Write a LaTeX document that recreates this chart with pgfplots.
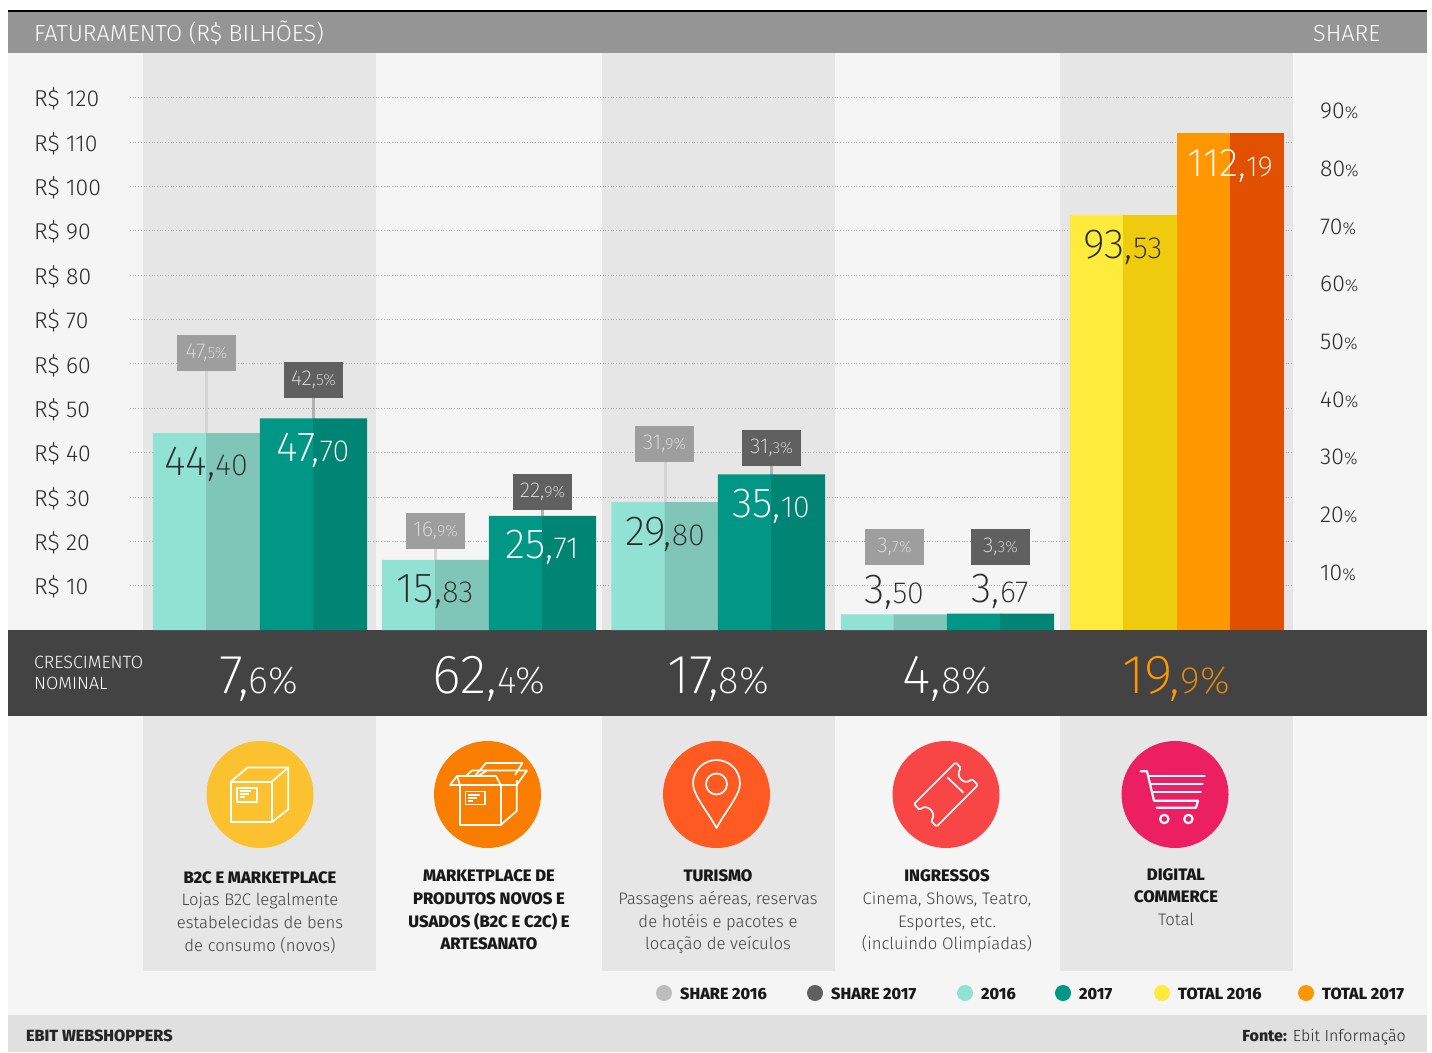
\documentclass[border=0pt]{standalone}
\usepackage{fontspec}
\usepackage{pgfplots}
\pgfplotsset{compat=1.18}
\setmainfont{Fira Sans}[UprightFont=* Light,BoldFont=* ExtraBold]
\newfontfamily\thin{Fira Sans ExtraLight}
\definecolor{Panel}{HTML}{F5F5F5}
\definecolor{Band}{HTML}{E6E6E6}
\definecolor{Head}{HTML}{959595}
\definecolor{Dark}{HTML}{434343}
\definecolor{Foot}{HTML}{E0E0E0}
\definecolor{ShareA}{HTML}{9E9E9E}
\definecolor{ShareB}{HTML}{606060}
\definecolor{LegA}{HTML}{BDBDBD}
\definecolor{MintA}{HTML}{92E2D3}
\definecolor{MintB}{HTML}{7FC5B8}
\definecolor{TealA}{HTML}{009786}
\definecolor{TealB}{HTML}{008574}
\definecolor{YelA}{HTML}{FFEB3B}
\definecolor{YelB}{HTML}{EECB0D}
\definecolor{OrA}{HTML}{FF9800}
\definecolor{OrB}{HTML}{E68A0A}
\definecolor{BarOrB}{HTML}{E14F00}
\definecolor{Ink}{HTML}{2B2B2B}
\definecolor{IcA}{HTML}{FCC12F}
\definecolor{IcB}{HTML}{F97E00}
\definecolor{IcC}{HTML}{FF5A22}
\definecolor{IcD}{HTML}{F84545}
\definecolor{IcE}{HTML}{EC1F63}
\newcommand\fs[1]{\fontsize{#1}{#1}\selectfont}
\newcommand\val[2]{{\thin\fs{42}#1,}{\thin\fs{30.5}#2}}
\newcommand\shr[2]{{\thin\fs{21.5}#1,}{\thin\fs{16}#2\%}}
\newcommand\gro[2]{{\thin\fs{55}#1,}{\thin\fs{38}#2\%}}
\tikzset{txt/.style={inner sep=0pt,anchor=base},
  shbox/.style={minimum width=59pt,minimum height=36pt,inner sep=0pt,text=black!12}}
\begin{document}
\begin{tikzpicture}
\useasboundingbox (0pt,0pt) rectangle (1432pt,-1052pt);
\begin{scope}[x=1pt,y=-1pt]
\fill[white] (0,0) rectangle (1432,1052);
\fill[Panel] (8,12) rectangle (1427,1015);
\fill[Foot] (8,1015) rectangle (1427,1052);
\foreach \a/\b in {143/376,602/835,1060/1293}{
  \fill[Band] (\a,53) rectangle (\b,630);
  \fill[Band] (\a,716) rectangle (\b,971);
}
\fill[Head] (8,11) rectangle (1427,53);
\draw[black,line width=1.6pt] (8,11) -- (1427,11);
\fill[Dark] (8,630) rectangle (1427,716);
\end{scope}

% main axis: x in pixels, y in R$ bilhoes
\begin{axis}[at={(130pt,-630pt)},anchor=south west,scale only axis,width=1163pt,height=577pt,
  xmin=130,xmax=1293,ymin=0,ymax=130.07,clip=false,
  axis line style={draw=none},xtick=\empty,major tick length=0pt,
  ytick={10,20,...,120},ymajorgrids=true,
  major grid style={draw=black!32,line width=0.7pt,dotted},
  /pgf/number format/assume math mode=true,
  yticklabel={R\$ \pgfmathprintnumber{\tick}},
  yticklabel style={font=\fs{23},text=Ink,anchor=west,inner xsep=0pt,xshift=-96pt,yshift=-1.5pt}]
% stems under the bars, up to the share boxes
\addplot[ycomb,no markers,draw=black!17,line width=3pt] coordinates {(206.5,60)(435,20)(665,40)};
\addplot[ycomb,no markers,draw=black!30,line width=3pt] coordinates {(313,54)(542,29)(771,39)};
\addplot[ybar,bar width=53.5pt,bar shift=0pt,fill=MintA,draw=none] coordinates {(179.5,44.40)(408.5,15.83)(638,28.85)(867.5,3.50)};
\addplot[ybar,bar width=54pt,bar shift=0pt,fill=MintB,draw=none] coordinates {(233,44.40)(462,15.83)(691.5,28.85)(920.5,3.50)};
\addplot[ybar,bar width=53.5pt,bar shift=0pt,fill=TealA,draw=none] coordinates {(286.5,47.70)(515.5,25.71)(744.5,35.10)(973.5,3.67)};
\addplot[ybar,bar width=54pt,bar shift=0pt,fill=TealB,draw=none] coordinates {(340,47.70)(569,25.71)(798,35.10)(1027,3.67)};
\addplot[ybar,bar width=53.5pt,bar shift=0pt,fill=YelA,draw=none] coordinates {(1096.5,93.53)};
\addplot[ybar,bar width=54pt,bar shift=0pt,fill=YelB,draw=none] coordinates {(1150,93.53)};
\addplot[ybar,bar width=53.5pt,bar shift=0pt,fill=OrA,draw=none] coordinates {(1203.5,112.05)};
\addplot[ybar,bar width=54pt,bar shift=0pt,fill=BarOrB,draw=none] coordinates {(1257,112.05)};
% share boxes
\node[shbox,fill=ShareA] at (axis cs:206.5,62.44) {\shr{47}{5}};
\node[shbox,fill=ShareB] at (axis cs:313.5,56.36) {\shr{42}{5}};
\node[shbox,fill=ShareA] at (axis cs:435.5,22.32) {\shr{16}{9}};
\node[shbox,fill=ShareB] at (axis cs:542.5,31.11) {\shr{22}{9}};
\node[shbox,fill=ShareA] at (axis cs:664.5,41.93) {\shr{31}{9}};
\node[shbox,fill=ShareB] at (axis cs:771.5,41.03) {\shr{31}{3}};
\node[shbox,fill=ShareA] at (axis cs:894.5,18.71) {\shr{3}{7}};
\node[shbox,fill=ShareB] at (axis cs:1000.5,18.71) {\shr{3}{3}};
\end{axis}

% share axis on the right
\begin{axis}[at={(130pt,-630pt)},anchor=south west,scale only axis,width=1163pt,height=577pt,
  xmin=130,xmax=1293,ymin=0,ymax=100,
  axis line style={draw=none},xtick=\empty,major tick length=0pt,
  ytick={10,20,...,90},yticklabel pos=right,
  /pgf/number format/assume math mode=true,
  yticklabel={\pgfmathprintnumber{\tick}{\fs{17}\%}},
  yticklabel style={font=\fs{23},text=Ink,anchor=west,inner xsep=0pt,xshift=27pt,yshift=-0.5pt}]
\end{axis}

\begin{scope}[x=1pt,y=-1pt]
% header
\node[txt,anchor=base west,text=white,font=\fs{23.3}] at (34,41) {FATURAMENTO (R\$ BILHÕES)};
\node[txt,anchor=base west,text=white,font=\fs{23.3}] at (1313,41) {SHARE};
% bar values
\node[txt,text=Ink] at (206,475) {\val{44}{40}};
\node[txt,text=white] at (313,461) {\val{47}{70}};
\node[txt,text=Ink] at (435,602) {\val{15}{83}};
\node[txt,text=white] at (542,558) {\val{25}{71}};
\node[txt,text=Ink] at (665,545) {\val{29}{80}};
\node[txt,text=white] at (771,517) {\val{35}{10}};
\node[txt,text=Ink] at (894,603) {\val{3}{50}};
\node[txt,text=Ink] at (1000,602) {\val{3}{67}};
\node[txt,text=Ink] at (1123,258) {\val{93}{53}};
\node[txt,text=white] at (1230,176) {{\thin\fs{40}112,}{\thin\fs{29}19}};
% growth row
\node[txt,anchor=base west,text=white,font=\fs{17.8}] at (34,668) {CRESCIMENTO};
\node[txt,anchor=base west,text=white,font=\fs{17.8}] at (34,689) {NOMINAL};
\node[txt,text=white] at (259,693) {\gro{7}{6}};
\node[txt,text=white] at (489,693) {\gro{62}{4}};
\node[txt,text=white] at (718,693) {\gro{17}{8}};
\node[txt,text=white] at (947,693) {\gro{4}{8}};
\node[txt] at (1176,693) {{\thin\fs{55}\color{OrA}19,}{\thin\fs{38}\color{OrB}9\%}};
% icons
\fill[IcA] (260,794.5) circle (53.5);
\fill[IcB] (487.5,794.5) circle (53.5);
\fill[IcC] (716.5,794.5) circle (53.5);
\fill[IcD] (946,794.5) circle (53.5);
\fill[IcE] (1175,794.5) circle (53.5);
\begin{scope}[draw=white,line width=1.7pt,line join=round]
% closed box
\draw (230.7,781.7) rectangle (271.7,822.3);
\draw (230.7,781.7) -- (247.5,767.5) -- (288.3,767.5) -- (271.7,781.7);
\draw (288.3,767.5) -- (288.3,809.3) -- (271.7,822.3);
\draw (236.7,787.7) rectangle (256.7,801.7);
\draw[line width=1.2pt] (239.5,791) -- (250.5,791) (239.5,794) -- (249,794) (239.5,797) -- (245,797);
% open box
\draw (460,785) rectangle (500.7,825);
\draw (500.7,825) -- (516.7,811) -- (516.7,780);
\draw (460,785) -- (457,776) -- (496,776) -- (500.7,785);
\draw (460,785) -- (450,785) -- (457,776);
\draw (500.7,785) -- (516.7,785) -- (527,770.5) -- (487,770.5) -- (478,776);
\draw (487,770.5) -- (472,770.5) -- (466,776);
\draw (475,776) -- (486,763) -- (522.5,763) -- (515,775);
\draw (465.5,791.5) rectangle (485,804.5);
\draw[line width=1.2pt] (468,795) -- (480,795) (468,798) -- (477,798) (468,801) -- (473,801);
% pin
\draw (716.5,828) .. controls (708,812) and (693,795) .. (693,783.5)
  .. controls (693,770) and (704,760) .. (716.5,760)
  .. controls (729,760) and (740,770) .. (740,783.5)
  .. controls (740,795) and (725,812) .. (716.5,828) -- cycle;
\draw (716.5,784) circle (10.5);
% ticket
\draw[rounded corners=1.5pt] (955.7,762.3) -- (961,768) .. controls (955,776) and (964,786) .. (972,779) -- (977.9,785)
  -- (936.6,826.7) -- (931,821) .. controls (937,813) and (927,803) .. (919.5,810) -- (914,804) -- cycle;
\draw (947.3,777.3) -- (963.4,792.7);
% cart
\draw[line width=2.2pt,line cap=round] (1140.6,771.3) -- (1147,771.3) -- (1154,800.7) -- (1198,800.7) -- (1196,807.7) -- (1156.6,807.7);
\draw[line width=2.2pt,line cap=round] (1149,776) -- (1204.5,776) (1151,783.7) -- (1202.6,783.7) (1152.8,791.7) -- (1200.7,791.7);
\draw[line width=2.2pt] (1164.3,819) circle (4.2) (1188.4,819) circle (4.2);
\end{scope}
% captions
\foreach \x/\y/\t in {
  260/883/B2C E MARKETPLACE,
  489/881/MARKETPLACE DE,489/904/PRODUTOS NOVOS E,489/927/USADOS (B2C E C2C) E,489/949/ARTESANATO,
  718/881/TURISMO,947/881/INGRESSOS,1176/880/DIGITAL,1176/902/COMMERCE}
  \node[txt,text=black!90,font=\fs{16.6}\bfseries] at (\x,\y) {\t};
\foreach \x/\y/\t in {
  260/905/Lojas B2C legalmente,260/928/estabelecidas de bens,260/951/de consumo (novos),
  718/904/{Passagens aéreas, reservas},718/927/de hotéis e pacotes e,718/949/locação de veículos,
  947/904/{Cinema, Shows, Teatro,},947/927/{Esportes, etc.},947/949/(incluindo Olimpíadas),
  1176/925/Total}
  \node[txt,text=black!75,font=\fs{16.7}] at (\x,\y) {\t};
% legend
\foreach \x/\c/\t in {664/LegA/SHARE 2016,815/ShareB/SHARE 2017,965/MintA/2016,1063/TealA/2017,1162/YelA/TOTAL 2016,1306/OrA/TOTAL 2017}{
  \fill[\c] (\x,993) circle (8);
  \node[txt,anchor=base west,text=black!90,font=\fs{16.2}\bfseries] at (\x+16,999) {\t};
}
% footer
\node[txt,anchor=base west,text=black!85,font=\fs{16.2}\bfseries] at (26,1041) {EBIT WEBSHOPPERS};
\node[txt,anchor=base east,text=black!85,font=\fs{16}] at (1406,1041) {\textbf{Fonte:} Ebit Informação};
\end{scope}
\end{tikzpicture}
\end{document}
